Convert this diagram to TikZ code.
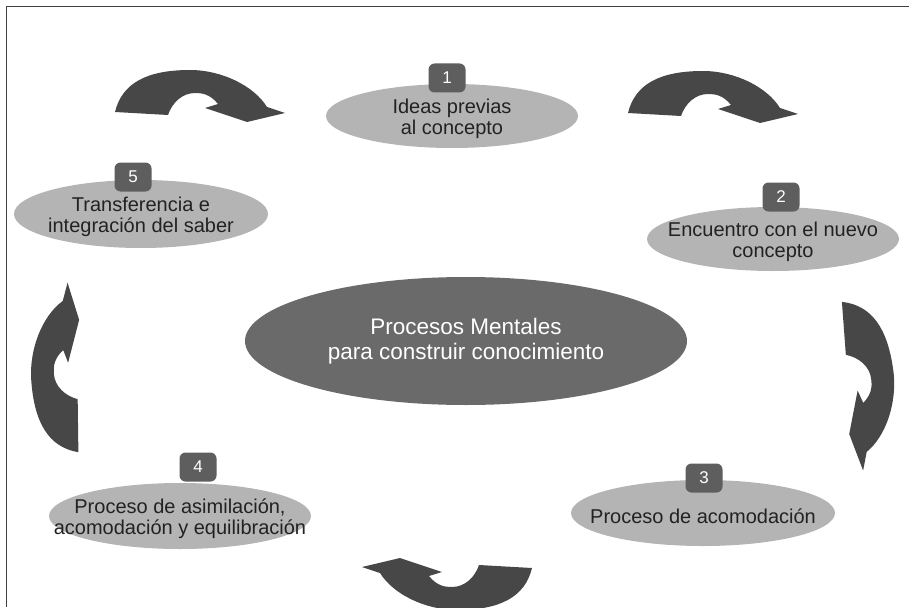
\documentclass[tikz,border=0pt]{standalone}
\usepackage{fontspec}
\setmainfont{Liberation Sans}
\usetikzlibrary{shapes.geometric}
\definecolor{ellgray}{HTML}{B4B4B4}
\definecolor{coregray}{HTML}{6A6A6A}
\definecolor{arrgray}{HTML}{474747}
\definecolor{badgegray}{HTML}{5E5E5E}
\definecolor{txtgray}{HTML}{222222}
\tikzstyle{stage}=[ellipse, fill=ellgray, inner sep=0pt]
\tikzstyle{stagetext}=[align=center, text=txtgray, yshift=-3pt, font=\fontsize{20}{21}\selectfont]
\tikzstyle{core}=[ellipse, fill=coregray, inner sep=0pt]
\tikzstyle{coretext}=[align=center, text=white, font=\fontsize{22.5}{25}\selectfont]
\tikzstyle{num}=[rectangle, rounded corners=6pt, fill=badgegray, minimum width=37pt, minimum height=29pt, inner sep=0pt, text=white, font=\fontsize{17}{17}\selectfont]
\tikzset{bent/.pic={
  \fill[arrgray] (-77,-6) .. controls (-70,-35) and (-45,-48) .. (-2,-48)
    .. controls (30,-48) and (62,-32) .. (75,-11) -- (93,-5) -- (55,4) -- (13,-10) -- (26,-14)
    .. controls (18,-24) and (10,-25) .. (3,-25) .. controls (-10,-25) and (-20,-15) .. (-24,-3) -- cycle;
}}

\begin{document}
\begin{tikzpicture}[x=1pt,y=-1pt]
  \useasboundingbox (0,0) rectangle (909,607);
  \draw[black!75, line width=1pt] (6,607) |- (909,7);

  \node [core, minimum width=442pt, minimum height=128pt,
    label={[coretext]center:Procesos Mentales\\para construir conocimiento}] (c) at (466,341) {};

  \node [stage, minimum width=252pt, minimum height=64pt,
    label={[stagetext]center:Ideas previas\\al concepto}] (e1) at (452,116) {};
  \node [stage, minimum width=252pt, minimum height=64pt,
    label={[stagetext]center:Encuentro con el nuevo\\concepto}] (e2) at (773,239) {};
  \node [stage, minimum width=264pt, minimum height=66pt,
    label={[stagetext]center:Proceso de acomodación}] (e3) at (703,513) {};
  \node [stage, minimum width=262pt, minimum height=66pt,
    label={[stagetext]center:Proceso de asimilación,\\acomodación y equilibración}] (e4) at (180,516) {};
  \node [stage, minimum width=254pt, minimum height=68pt,
    label={[stagetext]center:Transferencia e\\integración del saber}] (e5) at (141,214) {};

  \node [num] (b1) at (447,78) {1};
  \node [num] (b2) at (781,197) {2};
  \node [num] (b3) at (704,478) {3};
  \node [num] (b4) at (198,467) {4};
  \node [num] (b5) at (133,177) {5};

  \pic at (192,118) {bent};
  \pic at (705,119) {bent};
  \pic [rotate=-82.5] at (846,379) {bent};
  \pic [rotate=180] at (455,562) {bent};
  \pic [rotate=94] at (79,375) {bent};
\end{tikzpicture}
\end{document}
